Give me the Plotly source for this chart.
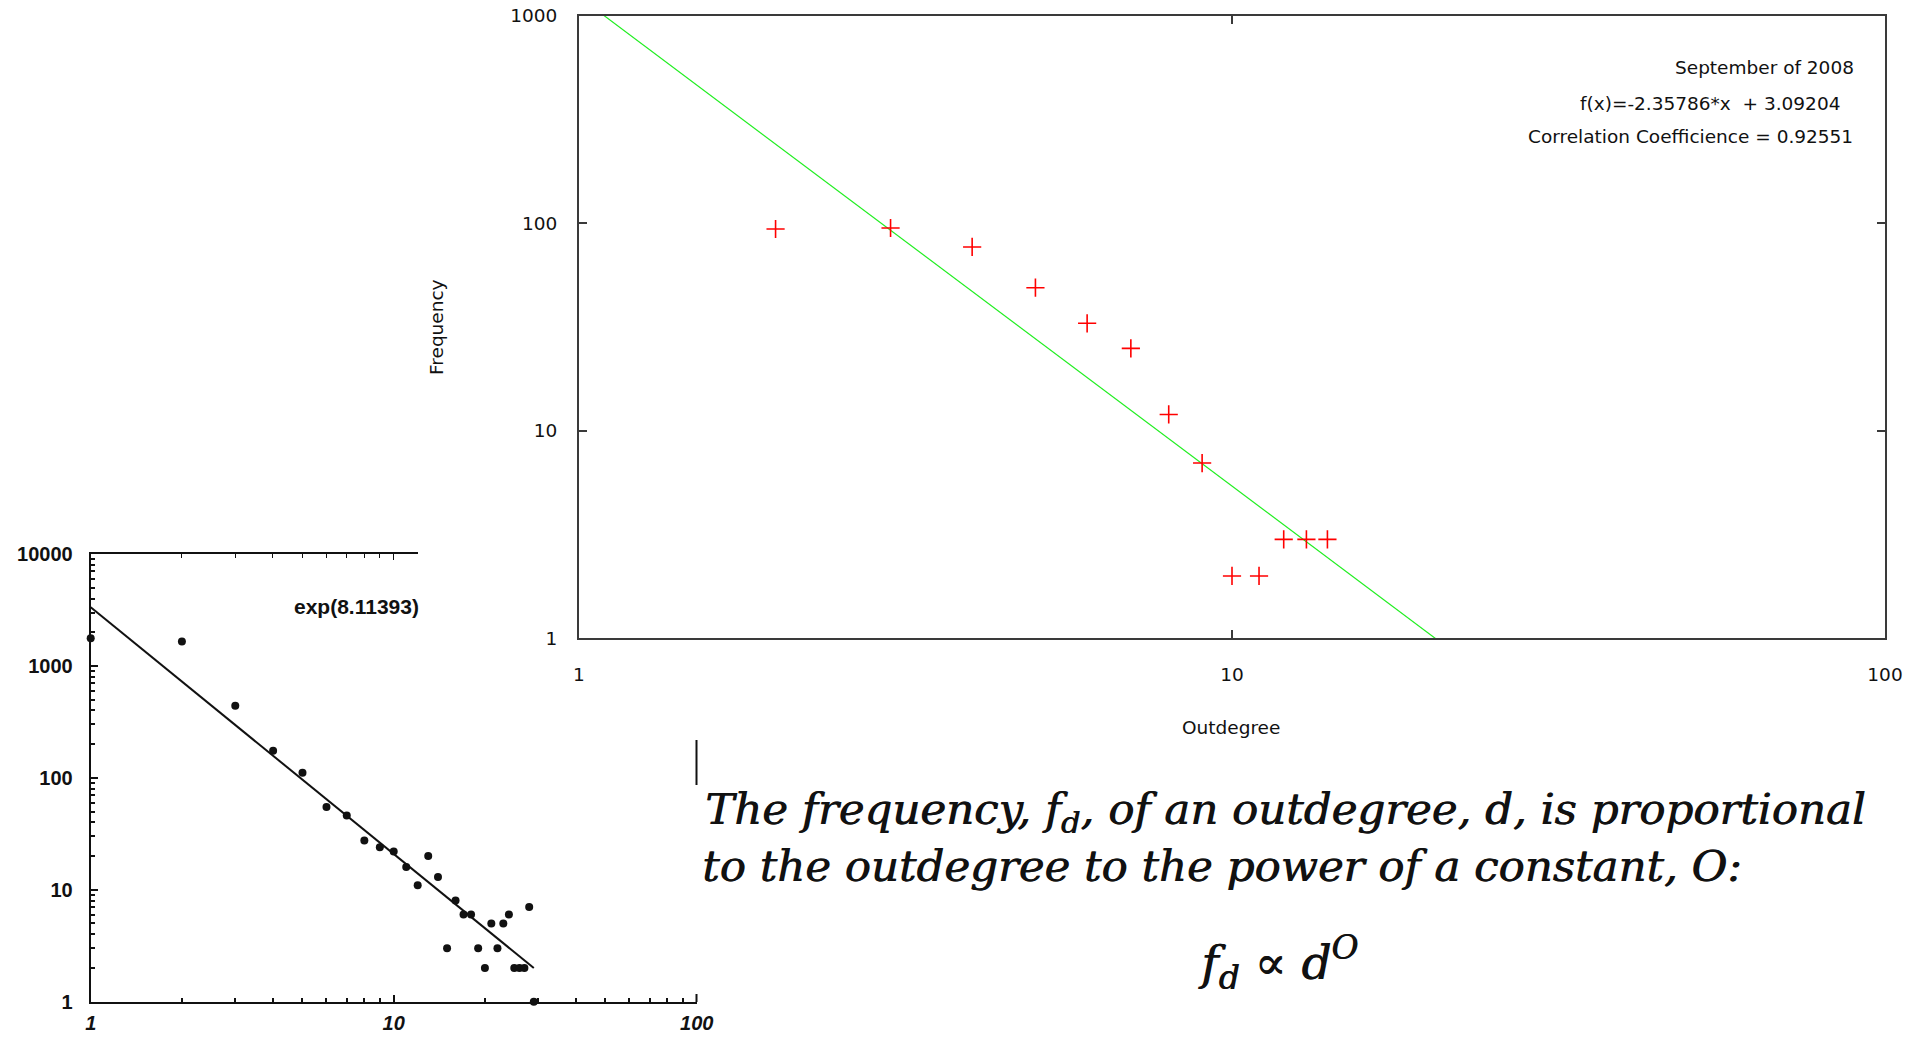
import math
import plotly.graph_objects as go

W, H = 1914, 1037

# ---- data: upper chart (September of 2008) ----
outdegree = [2, 3, 4, 5, 6, 7, 8, 9, 10, 11, 12, 13, 14]
frequency = [94, 95, 77, 49, 33, 25, 12, 7, 2, 2, 3, 3, 3]
fit_slope = -2.35786
fit_intercept = 3.09204
fit_span = [1, 100]
top_ticks = ["1", "10", "100", "1000"]

# ---- data: lower-left chart (scanned) ----
old_degree = list(range(1, 30))
old_freq = [1770, 1650, 440, 175, 111, 55, 46, 27.5, 24, 22, 16, 11, 20, 13,
            3, 8, 6, 6, 3, 2, 5, 3, 5, 6, 2, 2, 2, 7, 1]
old_fit_lnc = 8.11393
old_fit_x = [1, 29]
old_fit_y_end = 2.0


def px(x):
    return x / W


def py(y):
    return 1 - y / H


fig = go.Figure()

# upper chart traces
fig.add_trace(go.Scatter(
    x=fit_span,
    y=[10 ** (fit_intercept + fit_slope * math.log10(v)) for v in fit_span],
    mode="lines", line=dict(color="#22ee22", width=1.2),
    xaxis="x", yaxis="y", showlegend=False, hoverinfo="skip"))
fig.add_trace(go.Scatter(
    x=outdegree, y=frequency, mode="markers",
    marker=dict(symbol="cross-thin", size=13, line=dict(color="#ff0000", width=1.6)),
    xaxis="x", yaxis="y", showlegend=False))

# lower-left chart traces
fig.add_trace(go.Scatter(
    x=old_fit_x, y=[math.exp(old_fit_lnc), old_fit_y_end],
    mode="lines", line=dict(color="#111111", width=2),
    xaxis="x2", yaxis="y2", showlegend=False, hoverinfo="skip"))
fig.add_trace(go.Scatter(
    x=old_degree, y=old_freq, mode="markers", cliponaxis=False,
    marker=dict(symbol="circle", size=8, color="#111111"),
    xaxis="x2", yaxis="y2", showlegend=False))
# carrier for the partial top border of the scanned chart
fig.add_trace(go.Scatter(x=[], y=[], xaxis="x3", yaxis="y2", showlegend=False))

top_font = dict(family="DejaVu Sans", size=18.5, color="#111111")
old_font = dict(family="Liberation Sans", size=20, color="#111111", weight="bold")

fig.update_layout(
    width=W, height=H, autosize=False,
    margin=dict(l=0, r=0, t=0, b=0, pad=0),
    paper_bgcolor="white", plot_bgcolor="rgba(0,0,0,0)",
    xaxis=dict(type="log", range=[0, 2], domain=[px(579), px(1885)], anchor="y",
               automargin=False,
               showline=True, linecolor="#3a3a3a", linewidth=2, mirror="ticks",
               ticks="inside", ticklen=8, tickcolor="#3a3a3a", tickwidth=1.5,
               dtick=1, tickformat="d", showgrid=False, zeroline=False,
               tickfont=top_font, ticklabelstandoff=18),
    yaxis=dict(type="log", range=[0, 3], domain=[py(638.4), py(15.9)], anchor="x",
               automargin=False,
               showline=True, linecolor="#3a3a3a", linewidth=2, mirror="ticks",
               ticks="inside", ticklen=8, tickcolor="#3a3a3a", tickwidth=1.5,
               tickvals=[1, 10, 100, 1000], ticktext=top_ticks,
               showgrid=False, zeroline=False,
               tickfont=top_font, ticklabelstandoff=16),
    xaxis2=dict(type="log", range=[0, 2], domain=[px(90.7), px(696.7)], anchor="y2",
                automargin=False,
                showline=True, linecolor="#111111", linewidth=2,
                ticks="inside", ticklen=7, tickcolor="#111111", tickwidth=1.5,
                dtick=1, tickformat="d", showgrid=False, zeroline=False,
                minor=dict(ticks="inside", ticklen=4, dtick="D1", tickcolor="#111111", showgrid=False),
                tickfont=dict(family="Liberation Sans", size=20, color="#111111",
                              weight="bold", style="italic"),
                ticklabelstandoff=2),
    yaxis2=dict(type="log", range=[0, 4], domain=[py(1001.7), py(554)], anchor="x2",
                automargin=False,
                showline=True, linecolor="#111111", linewidth=2,
                ticks="inside", ticklen=7, tickcolor="#111111", tickwidth=1.5,
                dtick=1, tickformat="d", showgrid=False, zeroline=False,
                minor=dict(ticks="inside", ticklen=4, dtick="D1", tickcolor="#111111", showgrid=False),
                tickfont=old_font, ticklabelstandoff=12),
    xaxis3=dict(type="log", range=[0, math.log10(12.05)], domain=[px(90.7), px(418)],
                anchor="y2", side="top", automargin=False,
                showline=True, linecolor="#111111", linewidth=2,
                ticks="inside", ticklen=6, tickcolor="#111111", tickwidth=1.2,
                dtick=1, showticklabels=False, showgrid=False, zeroline=False,
                minor=dict(ticks="inside", ticklen=4, dtick="D1", tickcolor="#111111", showgrid=False)),
)

# remnants of the scanned chart's right border
shapes = [
    dict(type="line", xref="paper", yref="paper", x0=px(696.5), x1=px(696.5),
         y0=py(740), y1=py(785), line=dict(color="#111111", width=2)),
    dict(type="line", xref="paper", yref="paper", x0=px(696.5), x1=px(696.5),
         y0=py(994), y1=py(1002), line=dict(color="#111111", width=2)),
]
fig.update_layout(shapes=shapes)

ann = []
# upper chart labels
ann.append(dict(text="Frequency", x=px(436), y=py(327), xref="paper", yref="paper",
                textangle=-90, showarrow=False, font=top_font,
                xanchor="center", yanchor="middle"))
ann.append(dict(text="Outdegree", x=px(1231), y=py(727), xref="paper", yref="paper",
                showarrow=False, font=top_font, xanchor="center", yanchor="middle"))
ann.append(dict(text="September of 2008", x=px(1856), y=py(68), xref="paper", yref="paper",
                showarrow=False, font=top_font, xanchor="right", yanchor="middle"))
ann.append(dict(text=f"f(x)={fit_slope}*x  + {fit_intercept:.5f}", x=px(1842), y=py(103),
                xref="paper", yref="paper",
                showarrow=False, font=top_font, xanchor="right", yanchor="middle"))
ann.append(dict(text="Correlation Coefficience = 0.92551", x=px(1855), y=py(136),
                xref="paper", yref="paper",
                showarrow=False, font=top_font, xanchor="right", yanchor="middle"))
# scanned chart label
ann.append(dict(text=f"exp({old_fit_lnc})", x=px(421), y=py(606), xref="paper", yref="paper",
                showarrow=False, font=dict(family="Liberation Sans", size=21, color="#111111", weight="bold"),
                xanchor="right", yanchor="middle"))
# definition text
serif = dict(family="DejaVu Serif", size=43.5, color="#111111", style="italic",
             shadow="0.8px 0px 0px #111111")
ann.append(dict(text="The frequency, f<sub>d</sub>, of an outdegree, d, is proportional",
                x=px(703), y=py(812), xref="paper", yref="paper", showarrow=False,
                font=serif, xanchor="left", yanchor="middle"))
ann.append(dict(text="to the outdegree to the power of a constant, O:",
                x=px(700), y=py(866), xref="paper", yref="paper", showarrow=False,
                font=serif, xanchor="left", yanchor="middle"))
formula_font = dict(serif, size=47)
ann.append(dict(text="f<sub>d</sub> \u221d d<sup>O</sup>",
                x=px(1278), y=py(962), xref="paper", yref="paper", showarrow=False,
                font=formula_font, xanchor="center", yanchor="middle"))
fig.update_layout(annotations=ann)

fig.write_html(
    "out.html",
    config={"displayModeBar": False},
    post_script="document.body.style.margin='0';document.body.style.overflow='hidden';",
)
